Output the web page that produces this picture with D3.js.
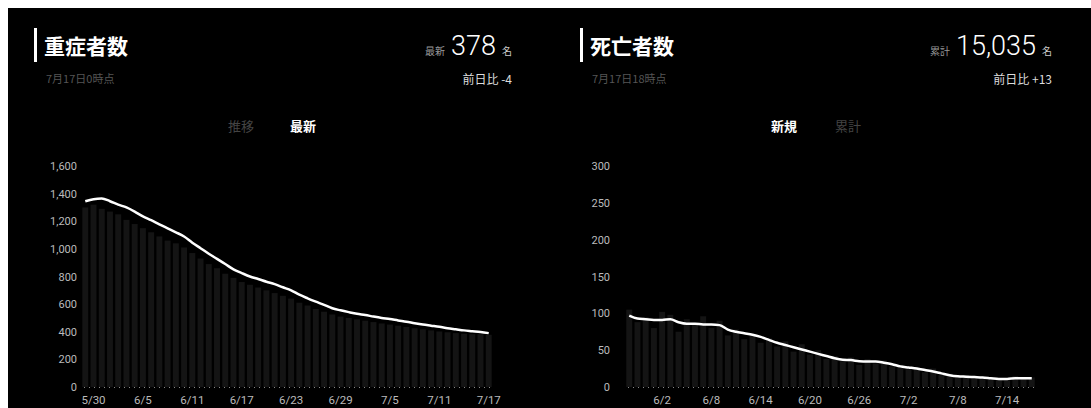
<!DOCTYPE html>
<html><head><meta charset="utf-8">
<script src="https://cdn.jsdelivr.net/npm/d3@7"></script>
<style>
html,body{margin:0;padding:0;background:#fff;}
svg{display:block;}
text{font-family:Roboto,"Noto Sans CJK JP",sans-serif;}
.jp{font-family:"Noto Sans CJK JP",sans-serif;}
</style></head>
<body>
<svg id="c" width="1091" height="408"></svg>
<script>
const dates = ["5/29","5/30","5/31","6/1","6/2","6/3","6/4","6/5","6/6","6/7","6/8","6/9","6/10","6/11","6/12","6/13","6/14","6/15","6/16","6/17","6/18","6/19","6/20","6/21","6/22","6/23","6/24","6/25","6/26","6/27","6/28","6/29","6/30","7/1","7/2","7/3","7/4","7/5","7/6","7/7","7/8","7/9","7/10","7/11","7/12","7/13","7/14","7/15","7/16","7/17"];

const severeTicksX = ["5/30","6/5","6/11","6/17","6/23","6/29","7/5","7/11","7/17"];
const severeTicksY = [0,200,400,600,800,1000,1200,1400,1600];
const severeBars = [1300,1320,1290,1270,1250,1210,1180,1150,1120,1090,1060,1040,1010,970,930,890,860,820,790,760,740,720,700,680,660,640,610,590,565,545,525,510,500,490,480,470,460,452,444,435,425,418,410,402,396,390,386,382,382,378];
const severeLine = [1345,1360,1365,1345,1320,1300,1270,1235,1208,1178,1149,1120,1090,1045,1005,965,928,890,852,825,800,782,762,745,722,700,668,642,618,595,570,555,542,530,521,510,500,492,482,473,462,452,444,436,426,418,410,404,398,390];

const deathTicksX = ["6/2","6/8","6/14","6/20","6/26","7/2","7/8","7/14"];
const deathTicksY = [0,50,100,150,200,250,300];
const deathBars = [105,88,95,80,102,98,75,92,84,96,80,90,70,78,65,72,60,66,55,62,48,58,44,50,38,42,35,40,30,38,32,36,28,30,24,27,20,25,16,18,13,16,12,14,10,12,9,15,11,13];
const deathLine = [97,93,92,91,91,92,88,86,86,85,85,84,78,75,73,71,68,64,60,57,54,51,48,45,42,39,37,36.5,35,34.5,34.5,33,31,28,26.5,25,23,21,18.5,16,14.5,14,13.5,13,12,11,11,12,12,12];

const svg = d3.select("#c");
svg.append("rect").attr("x",8).attr("y",8).attr("width",1083).attr("height",400).attr("fill","#000");

function panel(o){
  const g = svg.append("g");
  // header
  g.append("rect").attr("x",o.barX).attr("y",28).attr("width",3).attr("height",34).attr("fill","#fff");
  g.append("text").attr("class","jp").attr("x",o.barX+10).attr("y",54).attr("font-size",21).attr("font-weight","bold").attr("fill","#fff").text(o.title);
  g.append("text").attr("class","jp").attr("x",o.barX+12).attr("y",83).attr("font-size",11).attr("fill","#555").text(o.sub);
  const h = g.append("text").attr("x",o.rightX).attr("y",55).attr("text-anchor","end").attr("fill","#fff");
  h.append("tspan").attr("class","jp").attr("font-size",10).attr("fill","#999").text(o.bigLabel);
  h.append("tspan").attr("dx",6).attr("font-size",27).attr("font-weight",300).text(o.big);
  h.append("tspan").attr("class","jp").attr("dx",6).attr("font-size",10).attr("fill","#ccc").text("名");
  g.append("text").attr("class","jp").attr("x",o.rightX).attr("y",84).attr("text-anchor","end").attr("font-size",12).attr("fill","#ddd").text(o.diff);
  // legend
  o.legend.forEach(l=>{
    g.append("text").attr("class","jp").attr("x",l.x).attr("y",131).attr("font-size",13)
      .attr("font-weight",l.on?"bold":"normal").attr("fill",l.on?"#fff":"#444").text(l.t);
  });
  // scales
  const x = d3.scaleBand().domain(dates).range(o.xr).padding(0.28);
  const y = d3.scaleLinear().domain([0,o.ymax]).range([387,166]);
  // bars
  g.append("g").selectAll("rect").data(o.bars).join("rect")
    .attr("x",(d,i)=>x(dates[i])).attr("width",x.bandwidth())
    .attr("y",d=>y(d)).attr("height",d=>387-y(d)).attr("fill","#141414");
  // zero line
  g.append("line").attr("x1",o.xr[0]+4).attr("x2",o.xr[1]).attr("y1",387.5).attr("y2",387.5)
    .attr("stroke","#888").attr("stroke-width",1).attr("stroke-dasharray","1,4");
  // line
  const line = d3.line().x((d,i)=>x(dates[i])+x.bandwidth()/2).y(d=>y(d)).curve(d3.curveMonotoneX);
  g.append("path").datum(o.line).attr("d",line).attr("fill","none").attr("stroke","#fff").attr("stroke-width",2.5);
  // y axis
  const ya = g.append("g").attr("transform",`translate(${o.yAxisX},0)`)
    .call(d3.axisLeft(y).tickValues(o.ticksY).tickSize(0).tickPadding(0).tickFormat(d3.format(",")));
  ya.select(".domain").remove();
  ya.selectAll("text").attr("font-family","Roboto,sans-serif").attr("font-size",11).attr("fill","#bbb");
  // x axis
  const xa = g.append("g").attr("transform","translate(0,396)")
    .call(d3.axisBottom(x).tickValues(o.ticksX).tickSize(0).tickPadding(0));
  xa.select(".domain").remove();
  xa.selectAll("text").attr("font-family","Roboto,sans-serif").attr("font-size",11.5).attr("fill","#bbb").attr("dy","0.71em");
}

panel({id:"L",barX:34,title:"重症者数",sub:"7月17日0時点",bigLabel:"最新",big:"378",diff:"前日比 -4",rightX:512,
  legend:[{t:"推移",x:228,on:false},{t:"最新",x:290,on:true}],
  xr:[80,494],ymax:1600,ticksY:severeTicksY,ticksX:severeTicksX,bars:severeBars,line:severeLine,yAxisX:77});

panel({id:"R",barX:580,title:"死亡者数",sub:"7月17日18時点",bigLabel:"累計",big:"15,035",diff:"前日比 +13",rightX:1052,
  legend:[{t:"新規",x:771,on:true},{t:"累計",x:835,on:false}],
  xr:[624,1037],ymax:300,ticksY:deathTicksY,ticksX:deathTicksX,bars:deathBars,line:deathLine,yAxisX:610});
</script>
</body></html>
